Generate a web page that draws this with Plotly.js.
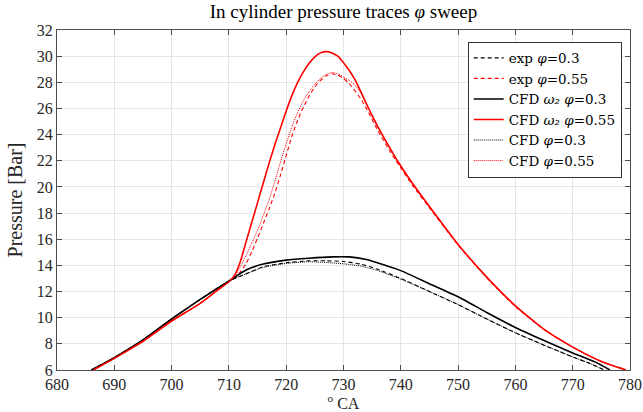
<!DOCTYPE html>
<html>
<head>
<meta charset="utf-8">
<script src="https://cdn.plot.ly/plotly-3.0.1.min.js"></script>
<style>html,body{margin:0;padding:0;background:#fff;}#chart{width:643px;height:412px;}</style>
</head>
<body>
<div id="chart"></div>
<script>
// Crank angle / pressure data
const expLowX = [686, 690, 695, 700, 705, 710, 713, 716, 720, 724, 727, 730, 733, 736, 740, 745, 750, 755, 760, 765, 770, 773, 775.5];
const expLowP = [6.0, 6.95, 8.3, 9.9, 11.4, 12.8, 13.35, 13.9, 14.2, 14.35, 14.35, 14.3, 14.1, 13.7, 13.0, 12.0, 11.0, 9.9, 8.85, 7.9, 7.0, 6.5, 6.0];

const expHighX = [686.3, 690, 695, 700, 705, 708, 710, 711, 712, 713, 714, 715, 716, 717, 718, 719, 720, 721, 722, 723, 724, 725, 726, 727, 728, 729, 730, 731, 732, 733, 734, 735, 736, 737, 738, 739, 740, 742, 745, 750, 755, 760, 765, 770, 775, 779.3];
const expHighP = [6.0, 6.9, 8.2, 9.75, 11.1, 12.1, 12.75, 13.05, 13.5, 14.15, 15.05, 16.1, 17.2, 18.3, 19.5, 20.9, 22.4, 23.9, 25.1, 26.1, 26.95, 27.65, 28.15, 28.5, 28.65, 28.55, 28.3, 27.9, 27.35, 26.75, 26.0, 25.15, 24.3, 23.55, 22.8, 22.1, 21.45, 20.15, 18.4, 15.55, 13.05, 10.85, 9.1, 7.75, 6.65, 6.0];

const cfdW2LowX = [686, 690, 695, 700, 705, 710, 713, 716, 720, 724, 728, 731, 734, 737, 740, 745, 750, 755, 760, 765, 770, 774, 776.5];
const cfdW2LowP = [6.0, 6.95, 8.3, 9.9, 11.4, 12.8, 13.65, 14.1, 14.4, 14.55, 14.65, 14.65, 14.45, 14.05, 13.6, 12.6, 11.6, 10.4, 9.25, 8.25, 7.3, 6.6, 6.0];

const cfdW2HighX = [686.3, 690, 695, 700, 705, 708, 710, 711, 712, 713, 714, 715, 716, 717, 718, 719, 720, 721, 722, 723, 724, 725, 726, 727, 728, 729, 730, 731, 732, 733, 734, 735, 736, 737, 738, 739, 740, 742, 745, 750, 755, 760, 765, 770, 775, 779.3];
const cfdW2HighP = [6.0, 6.9, 8.2, 9.75, 11.1, 12.1, 12.75, 13.25, 14.3, 15.8, 17.3, 18.8, 20.3, 21.8, 23.2, 24.5, 25.8, 27.0, 28.0, 28.8, 29.45, 29.95, 30.25, 30.35, 30.25, 30.0, 29.5, 28.9, 28.2, 27.3, 26.35, 25.45, 24.6, 23.8, 23.05, 22.3, 21.6, 20.3, 18.5, 15.6, 13.1, 10.9, 9.1, 7.75, 6.65, 6.0];

const cfdLowX = [686, 690, 695, 700, 705, 710, 713, 716, 720, 724, 727, 730, 733, 736, 740, 745, 750, 755, 760, 765, 770, 773, 775.5];
const cfdLowP = [6.0, 6.95, 8.3, 9.9, 11.4, 12.8, 13.35, 13.85, 14.15, 14.28, 14.22, 14.12, 13.95, 13.6, 12.95, 12.0, 11.0, 9.9, 8.85, 7.9, 7.0, 6.5, 6.0];

const cfdHighX = [686.3, 690, 695, 700, 705, 708, 710, 711, 712, 713, 714, 715, 716, 717, 718, 719, 720, 721, 722, 723, 724, 725, 726, 727, 728, 729, 730, 731, 732, 733, 734, 735, 736, 738, 740, 742, 745, 750, 755, 760, 765, 770, 775, 779.3];
const cfdHighP = [6.0, 6.9, 8.2, 9.75, 11.1, 12.1, 12.75, 13.15, 13.9, 14.75, 15.7, 16.7, 17.8, 19.0, 20.4, 21.9, 23.3, 24.6, 25.7, 26.6, 27.3, 27.85, 28.3, 28.6, 28.75, 28.65, 28.4, 28.15, 27.8, 27.2, 26.35, 25.4, 24.55, 23.0, 21.55, 20.25, 18.45, 15.6, 13.1, 10.9, 9.1, 7.75, 6.65, 6.0];

const legendNames = [
  'exp <i>φ</i>=0.3',
  'exp <i>φ</i>=0.55',
  'CFD <i>ω₂</i> <i>φ</i>=0.3',
  'CFD <i>ω₂</i> <i>φ</i>=0.55',
  'CFD <i>φ</i>=0.3',
  'CFD <i>φ</i>=0.55'
];
const xTicks = [680, 690, 700, 710, 720, 730, 740, 750, 760, 770, 780];
const yTicks = [6, 8, 10, 12, 14, 16, 18, 20, 22, 24, 26, 28, 30, 32];

const BLACK = '#000000', RED = '#ff0000';
const FONT = '"Liberation Serif", "DejaVu Serif", serif';
const LFONT = '"DejaVu Serif", "Liberation Serif", serif';

function tr(x, y, name, color, dash, width) {
  return {x: x, y: y, name: name, type: 'scatter', mode: 'lines',
    line: {color: color, dash: dash, width: width, shape: 'spline', smoothing: 0.5}};
}

const data = [
  tr(expLowX, expLowP, legendNames[0], BLACK, '4px,3px', 1.1),
  tr(expHighX, expHighP, legendNames[1], RED, '4px,3px', 1.1),
  tr(cfdW2LowX, cfdW2LowP, legendNames[2], BLACK, 'solid', 1.6),
  tr(cfdW2HighX, cfdW2HighP, legendNames[3], RED, 'solid', 1.6),
  tr(cfdLowX, cfdLowP, legendNames[4], BLACK, '1px,1px', 1.0),
  tr(cfdHighX, cfdHighP, legendNames[5], RED, '1px,1px', 1.0)
];

const axisCommon = {
  showline: true, mirror: 'ticks', linecolor: '#4d4d4d', linewidth: 1,
  ticks: 'inside', ticklen: 5, tickcolor: '#4d4d4d',
  showgrid: true, gridcolor: '#e6e6e6', gridwidth: 1,
  zeroline: false, tickfont: {family: FONT, size: 16, color: '#262626'}
};

const layout = {
  width: 643, height: 412,
  margin: {l: 57, r: 13, t: 30, b: 42},
  paper_bgcolor: '#ffffff', plot_bgcolor: '#ffffff',
  font: {family: FONT, color: '#000'},
  title: {text: 'In cylinder pressure traces <i>φ</i> sweep', font: {family: FONT, size: 19, color: '#000'},
    x: 0.5, xref: 'paper', xanchor: 'center', y: 0.972, yref: 'container', yanchor: 'middle'},
  xaxis: Object.assign({}, axisCommon, {
    range: [680, 780], tickvals: xTicks, ticktext: xTicks.map(String),
    title: {text: '<sup>o</sup> CA', font: {family: FONT, size: 16, color: '#262626'}, standoff: 3}
  }),
  yaxis: Object.assign({}, axisCommon, {
    range: [6, 32], tickvals: yTicks, ticktext: yTicks.map(String),
    title: {text: 'Pressure [Bar]', font: {family: FONT, size: 20, color: '#262626'}, standoff: 8}
  }),
  legend: {
    x: 0.9855, xanchor: 'right', y: 0.966, yanchor: 'top',
    bgcolor: '#ffffff', bordercolor: '#333333', borderwidth: 1,
    font: {family: LFONT, size: 13.5, color: '#000'}, tracegroupgap: 0, itemwidth: 30
  },
  showlegend: true
};

Plotly.newPlot('chart', data, layout, {staticPlot: true, displayModeBar: false});
</script>
</body>
</html>
